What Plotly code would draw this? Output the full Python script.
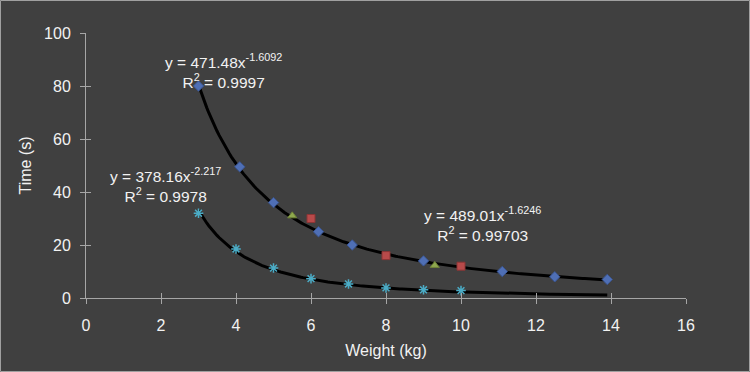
import numpy as np
import plotly.graph_objects as go

# Data
blue_x = [3.0, 4.1, 5.0, 6.2, 7.1, 9.0, 11.1, 12.5, 13.9]
blue_y = [80, 49.5, 36, 25, 20, 14, 10, 8, 7]
red_x = [6, 8, 10]
red_y = [30, 16, 12]
green_x = [5.5, 9.3]
green_y = [31, 12.3]
cyan_x = [3, 4, 5, 6, 7, 8, 9, 10]
cyan_y = [32, 18.5, 11.3, 7.3, 5.3, 3.8, 3.1, 2.8]

# Power trendlines y = a * x^b (coefficients shown on chart)
trend_upper = (471.48, -1.6092)
trend_lower = (378.16, -2.217)
trend_x_range = (3.0, 13.9)

x_ticks = [0, 2, 4, 6, 8, 10, 12, 14, 16]
y_ticks = [0, 20, 40, 60, 80, 100]

FONT = "Liberation Sans, Arial, sans-serif"
TXT = "#F2F2F2"
AX = "#A6A6A6"
BG = "#404040"

tx = np.linspace(trend_x_range[0], trend_x_range[1], 200)

fig = go.Figure()
for (a, b) in (trend_upper, trend_lower):
    fig.add_trace(go.Scatter(x=tx, y=a * tx ** b, mode="lines",
                             line=dict(color="black", width=3), hoverinfo="skip"))

fig.add_trace(go.Scatter(x=blue_x, y=blue_y, mode="markers",
                         marker=dict(symbol="diamond", size=8, color="#4F6FB5",
                                     line=dict(color="#3A5590", width=1))))
fig.add_trace(go.Scatter(x=red_x, y=red_y, mode="markers",
                         marker=dict(symbol="square", size=8, color="#B84A4A",
                                     line=dict(color="#8C3535", width=1))))
fig.add_trace(go.Scatter(x=green_x, y=green_y, mode="markers",
                         marker=dict(symbol="triangle-up", size=8, color="#8FA84E",
                                     line=dict(color="#6E8238", width=1))))
fig.add_trace(go.Scatter(x=cyan_x, y=cyan_y, mode="markers",
                         marker=dict(symbol="asterisk-open", size=8, color="#4BACC6",
                                     line=dict(color="#4BACC6", width=1.5))))

axis_common = dict(showgrid=False, zeroline=False, showline=True, linecolor=AX,
                   linewidth=1, ticks="outside", ticklen=5, tickcolor=AX,
                   tickfont=dict(family=FONT, size=16, color=TXT))

fig.update_layout(
    width=750, height=372,
    paper_bgcolor=BG, plot_bgcolor=BG,
    margin=dict(l=86, r=64, t=33, b=74),
    showlegend=False,
    font=dict(family=FONT, size=15, color=TXT),
    xaxis=dict(range=[0, 16], tickvals=x_ticks, ticklabelstandoff=8,
               title=dict(text="Weight (kg)", font=dict(family=FONT, size=16, color=TXT), standoff=11),
               **axis_common),
    yaxis=dict(range=[0, 100], tickvals=y_ticks, ticklabelstandoff=6,
               title=dict(text="Time (s)", font=dict(family=FONT, size=16, color=TXT), standoff=8),
               **axis_common),
    xaxis2=dict(range=[0, 16], tickvals=x_ticks, overlaying="x", anchor="y", side="bottom",
                showgrid=False, zeroline=False, showline=False, ticks="inside", ticklen=5,
                tickcolor=AX, showticklabels=False),
    yaxis2=dict(range=[0, 100], tickvals=y_ticks, overlaying="y", anchor="x", side="left",
                showgrid=False, zeroline=False, showline=False, ticks="inside", ticklen=5,
                tickcolor=AX, showticklabels=False),
)
# dummy trace to activate overlay axes
fig.add_trace(go.Scatter(x=[None], y=[None], xaxis="x2", yaxis="y2", hoverinfo="skip"))

labels = [
    (223, 71, "y = 471.48x<sup>-1.6092</sup><br>R<sup>2</sup> = 0.9997"),
    (165, 185, "y = 378.16x<sup>-2.217</sup><br>R<sup>2</sup> = 0.9978"),
    (482, 224, "y = 489.01x<sup>-1.6246</sup><br>R<sup>2</sup> = 0.99703"),
]
for px, py, text in labels:
    fig.add_annotation(x=(px - 86) / 600, y=(298 - py) / 265, xref="paper", yref="paper",
                       xanchor="center", yanchor="middle",
                       text=text, showarrow=False, align="center",
                       font=dict(family=FONT, size=15.5, color=TXT))

# outer border
fig.add_shape(type="rect", xref="paper", yref="paper",
              x0=-85.5 / 600, x1=1 + 63.5 / 600, y0=-73.5 / 265, y1=1 + 32.5 / 265,
              line=dict(color="#A0A0A0", width=1), fillcolor="rgba(0,0,0,0)", layer="below")

fig.write_html("out.html", config={"displayModeBar": False},
               post_script="document.body.style.margin='0';")
